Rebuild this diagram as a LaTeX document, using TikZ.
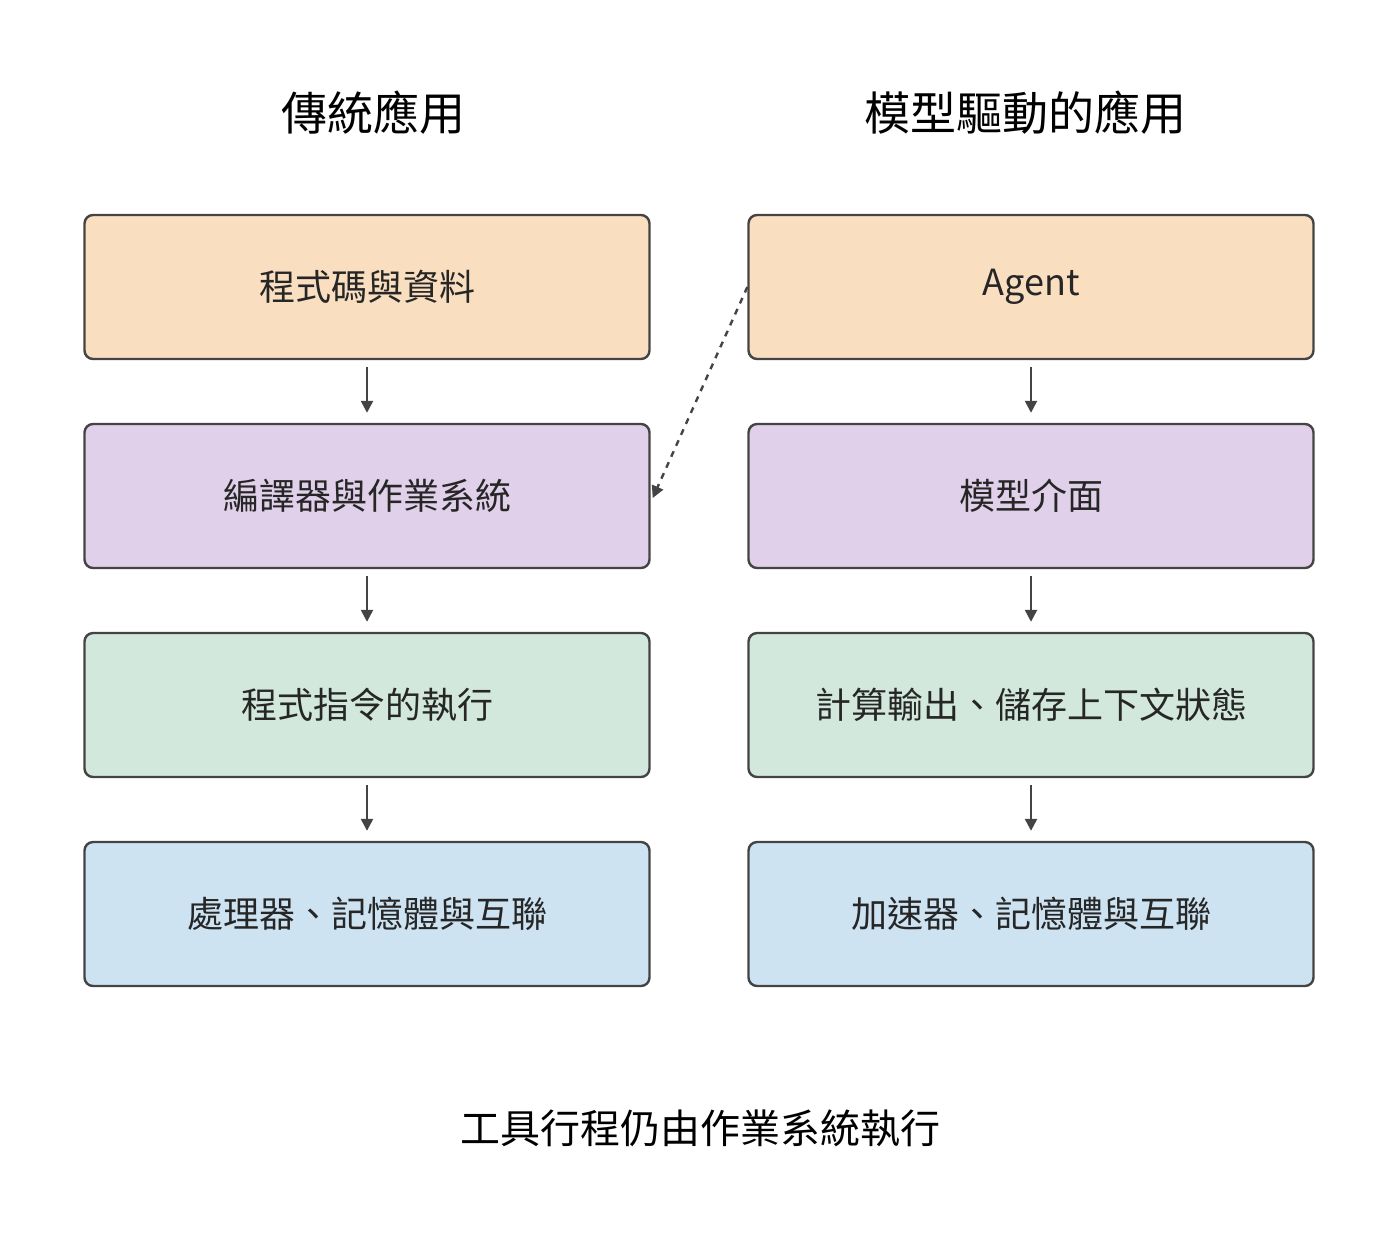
\documentclass[tikz,border=0pt]{standalone}
\usepackage{fontspec}
\setmainfont{Noto Sans CJK TC}
\usetikzlibrary{arrows.meta}
\definecolor{cOr}{HTML}{F9DEC0}
\definecolor{cPu}{HTML}{E0D0EA}
\definecolor{cGr}{HTML}{D2E8DC}
\definecolor{cBl}{HTML}{CDE3F2}
\definecolor{cLn}{HTML}{444444}
\begin{document}
\begin{tikzpicture}[x=0.5pt,y=-0.5pt]
				\tikzset{s/.style={draw=cLn,line width=1.2pt,rectangle,minimum width=282.5pt,minimum height=72pt,rounded corners=1.5mm,font=\fontsize{18}{22}\selectfont,text=black!85}}
				\tikzset{a/.style={-{Triangle[length=6pt,width=6pt]},draw=cLn,line width=1.2pt,shorten <=3.5pt,shorten >=5pt}}
				\useasboundingbox(0,0)rectangle(1400,1248);
				\node[font=\fontsize{23}{28}\selectfont](T1)at(373,113){傳統應用};
				\node[font=\fontsize{23}{28}\selectfont](T2)at(1025,113){模型驅動的應用};
				\path(367,287)node[s,fill=cOr](L1){程式碼與資料}
				++(0,209)node[s,fill=cPu](L2){編譯器與作業系統}
				++(0,209)node[s,fill=cGr](L3){程式指令的執行}
				++(0,209)node[s,fill=cBl](L4){處理器、記憶體與互聯};
				\path(1031,287)node[s,fill=cOr](R1){Agent}
				++(0,209)node[s,fill=cPu](R2){模型介面}
				++(0,209)node[s,fill=cGr](R3){計算輸出、儲存上下文狀態}
				++(0,209)node[s,fill=cBl](R4){加速器、記憶體與互聯};
				\foreach \x/\y in {
					L1/L2,L2/L3,L3/L4,
					R1/R2,R2/R3,R3/R4}
				\draw[a](\x.south)--(\y.north);
				\draw[a,dashed,shorten <=0pt,shorten >=0pt](R1.west)--([xshift=1pt,yshift=-1pt]L2.east);
				\node[font=\fontsize{20}{24}\selectfont](B)at(700,1128){工具行程仍由作業系統執行};
			\end{tikzpicture}
\end{document}
